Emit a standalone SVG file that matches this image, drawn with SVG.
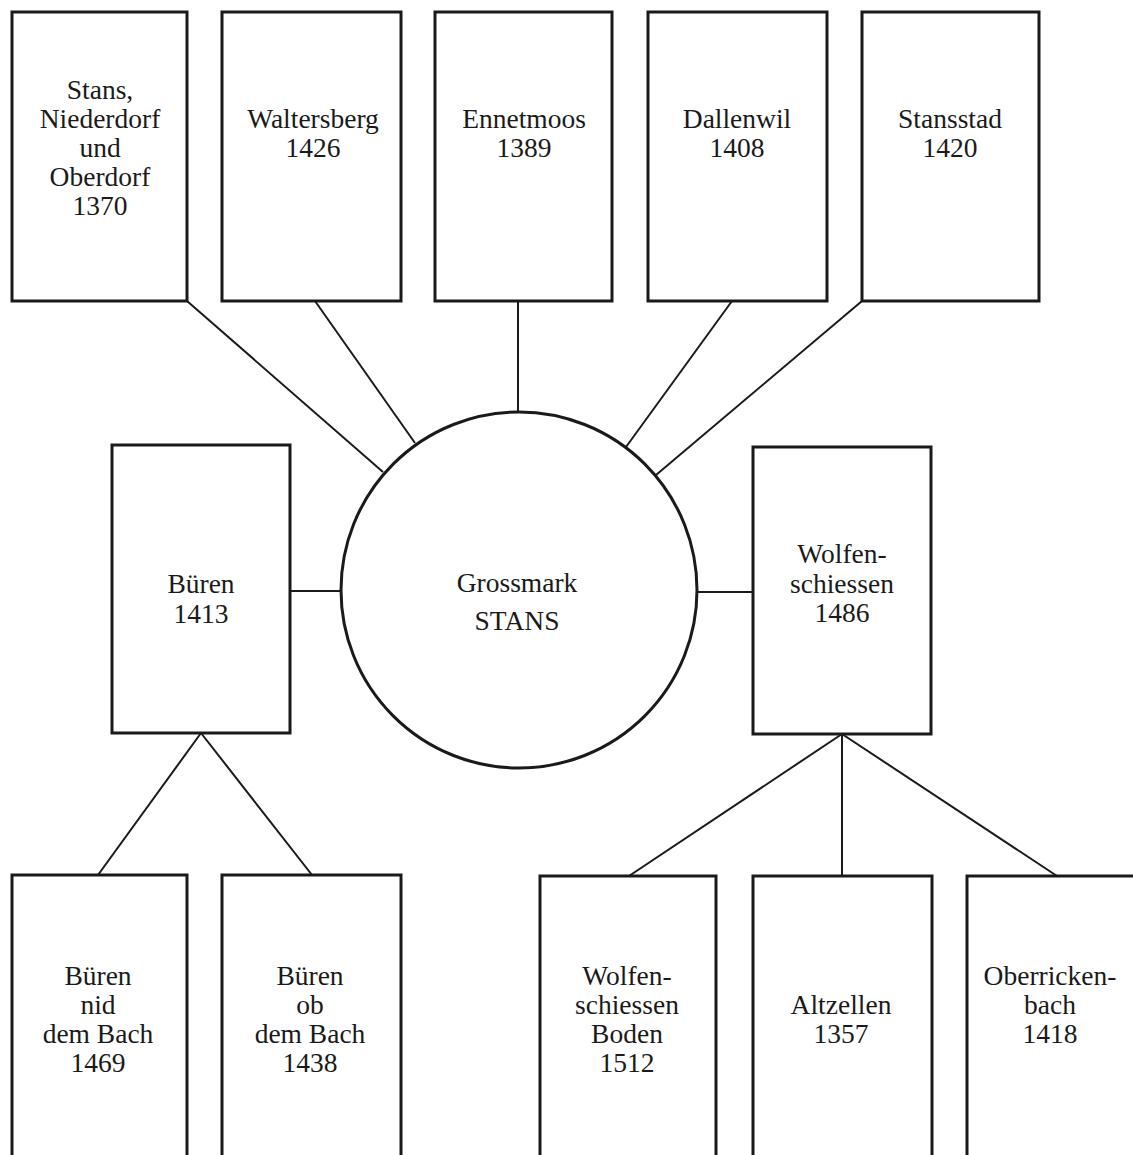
<svg xmlns="http://www.w3.org/2000/svg" width="1133" height="1155" viewBox="0 0 1133 1155">
<style>
.box{fill:#fff;stroke:#1a1a1a;stroke-width:3}
.circ{fill:#fff;stroke:#1a1a1a;stroke-width:3}
.ln{stroke:#1a1a1a;stroke-width:2;fill:none}
text{font-family:"Liberation Serif","Times New Roman",serif;font-size:27.5px;fill:#1a1a1a;text-anchor:middle}
</style>
<rect width="1133" height="1155" fill="#fff"/>
<g id="connectors">
<line class="ln" x1="187" y1="301" x2="383" y2="472"/>
<line class="ln" x1="315" y1="301" x2="415" y2="443"/>
<line class="ln" x1="518" y1="301" x2="518" y2="412"/>
<line class="ln" x1="732" y1="301" x2="626" y2="447"/>
<line class="ln" x1="862" y1="301" x2="656" y2="475"/>
<line class="ln" x1="290" y1="591" x2="341" y2="591"/>
<line class="ln" x1="697" y1="592" x2="753" y2="592"/>
<line class="ln" x1="201" y1="733" x2="98" y2="875"/>
<line class="ln" x1="201" y1="733" x2="312" y2="875"/>
<line class="ln" x1="842" y1="734" x2="629" y2="876"/>
<line class="ln" x1="842" y1="734" x2="842" y2="876"/>
<line class="ln" x1="842" y1="734" x2="1057" y2="876"/>
</g>
<g id="n-stans">
<rect class="box" x="12" y="12" width="175" height="289"/>
<text x="100" y="99">Stans,</text>
<text x="100" y="128">Niederdorf</text>
<text x="100" y="157">und</text>
<text x="100" y="186">Oberdorf</text>
<text x="100" y="215">1370</text>
</g>
<g id="n-waltersberg">
<rect class="box" x="222" y="12" width="179" height="289"/>
<text x="313" y="128">Waltersberg</text>
<text x="313" y="157">1426</text>
</g>
<g id="n-ennetmoos">
<rect class="box" x="435" y="12" width="177" height="289"/>
<text x="524" y="128">Ennetmoos</text>
<text x="524" y="157">1389</text>
</g>
<g id="n-dallenwil">
<rect class="box" x="648" y="12" width="179" height="289"/>
<text x="737" y="128">Dallenwil</text>
<text x="737" y="157">1408</text>
</g>
<g id="n-stansstad">
<rect class="box" x="862" y="12" width="177" height="289"/>
<text x="950" y="128">Stansstad</text>
<text x="950" y="157">1420</text>
</g>
<g id="n-grossmark">
<circle class="circ" cx="519" cy="590" r="178"/>
<text x="517" y="592">Grossmark</text>
<text x="517" y="630">STANS</text>
</g>
<g id="n-bueren">
<rect class="box" x="112" y="445" width="178" height="288"/>
<text x="201" y="593">Büren</text>
<text x="201" y="623">1413</text>
</g>
<g id="n-wolfenschiessen">
<rect class="box" x="753" y="447" width="178" height="287"/>
<text x="842" y="563">Wolfen-</text>
<text x="842" y="593">schiessen</text>
<text x="842" y="622">1486</text>
</g>
<g id="n-bueren-nid">
<rect class="box" x="12" y="875" width="175" height="300"/>
<text x="98" y="985">Büren</text>
<text x="98" y="1014">nid</text>
<text x="98" y="1043">dem Bach</text>
<text x="98" y="1072">1469</text>
</g>
<g id="n-bueren-ob">
<rect class="box" x="222" y="875" width="179" height="300"/>
<text x="310" y="985">Büren</text>
<text x="310" y="1014">ob</text>
<text x="310" y="1043">dem Bach</text>
<text x="310" y="1072">1438</text>
</g>
<g id="n-wolfenschiessen-boden">
<rect class="box" x="540" y="876" width="176" height="300"/>
<text x="627" y="985">Wolfen-</text>
<text x="627" y="1014">schiessen</text>
<text x="627" y="1043">Boden</text>
<text x="627" y="1072">1512</text>
</g>
<g id="n-altzellen">
<rect class="box" x="753" y="876" width="179" height="300"/>
<text x="841" y="1014">Altzellen</text>
<text x="841" y="1043">1357</text>
</g>
<g id="n-oberrickenbach">
<rect class="box" x="967" y="876" width="180" height="300"/>
<text x="1050" y="985">Oberricken-</text>
<text x="1050" y="1014">bach</text>
<text x="1050" y="1043">1418</text>
</g>
</svg>
